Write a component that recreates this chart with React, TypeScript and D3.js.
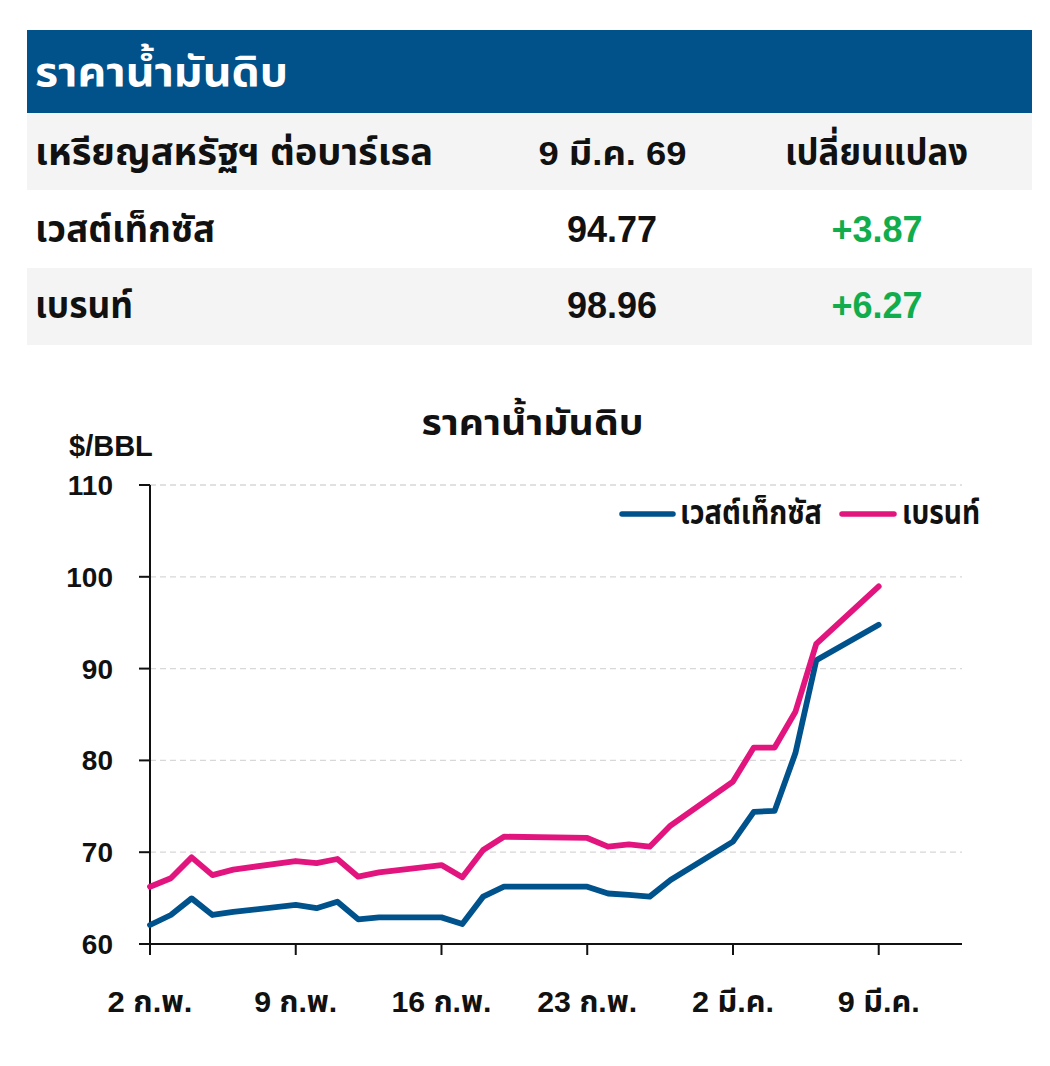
import React from "react";
import * as d3 from "d3";

const dates = [
  "2026-02-02","2026-02-03","2026-02-04","2026-02-05","2026-02-06",
  "2026-02-09","2026-02-10","2026-02-11","2026-02-12","2026-02-13",
  "2026-02-16","2026-02-17","2026-02-18","2026-02-19","2026-02-23",
  "2026-02-24","2026-02-25","2026-02-26","2026-02-27","2026-03-02",
  "2026-03-03","2026-03-04","2026-03-05","2026-03-06","2026-03-09",
];
const wti = [
  62.07, 63.16, 64.97, 63.16, 63.5,
  64.25, 63.9, 64.6, 62.69, 62.9,
  62.9, 62.18, 65.16, 66.24, 66.24,
  65.5, 65.35, 65.16, 66.97, 71.15,
  74.4, 74.5, 80.8, 90.9, 94.77,
];
const brent = [
  66.24, 67.16, 69.44, 67.5, 68.1,
  69.04, 68.8, 69.26, 67.33, 67.8,
  68.6, 67.26, 70.24, 71.69, 71.55,
  70.6, 70.85, 70.6, 72.9, 77.7,
  81.4, 81.4, 85.3, 92.7, 98.96,
];
const yTicks = [60, 70, 80, 90, 100, 110];
const xTickDates = ["2026-02-02","2026-02-09","2026-02-16","2026-02-23","2026-03-02","2026-03-09"];
const xTickLabels = ["2 ก.พ.", "9 ก.พ.", "16 ก.พ.", "23 ก.พ.", "2 มี.ค.", "9 มี.ค."];

const tableHeader = ["เหรียญสหรัฐฯ ต่อบาร์เรล", "9 มี.ค. 69", "เปลี่ยนแปลง"];
const tableNames = ["เวสต์เท็กซัส", "เบรนท์"];
const tableValues = ["94.77", "98.96"];
const tableChanges = ["+3.87", "+6.27"];

const BLUE = "#00528c";
const PINK = "#e2157f";
const GREEN = "#11ad4c";
const FONT = "'Liberation Sans', Arial, 'Noto Sans Thai', 'Noto Sans', sans-serif";

export default function App() {
  const parse = d3.timeParse("%Y-%m-%d");
  const x = d3
    .scaleTime()
    .domain([parse("2026-02-02")!, parse("2026-03-13")!])
    .range([150, 962]);
  const y = d3.scaleLinear().domain([60, 110]).range([944, 485]);
  const line = d3
    .line<number>()
    .x((_, i) => x(parse(dates[i])!))
    .y((d) => y(d));

  const rowTops = [113, 190, 268];
  const rowFills = ["#f4f4f4", "#ffffff", "#f4f4f4"];
  const xLabelLens = [85, 83, 100, 100, 82, 82];

  return (
    <svg width={1050} height={1066} style={{ display: "block", position: "absolute", left: 0, top: 0 }} fontFamily={FONT}>
      <rect x={0} y={0} width={1050} height={1066} fill="#fff" />
      {/* Table */}
      <rect x={27} y={30} width={1005} height={83} fill="#01518a" />
      <text x={35} y={86} fill="#fff" fontSize={41} fontWeight="bold" textLength={253} lengthAdjust="spacingAndGlyphs">ราคาน้ำมันดิบ</text>
      {rowTops.map((t, i) => (
        <rect key={i} x={27} y={t} width={1005} height={i === 2 ? 77 : rowTops[i + 1] - t} fill={rowFills[i]} />
      ))}
      <text x={35} y={165} fontSize={37} fontWeight="bold" fill="#111" textLength={398} lengthAdjust="spacingAndGlyphs">{tableHeader[0]}</text>
      <text x={612.5} y={165} fontSize={34} fontWeight="bold" fill="#111" textAnchor="middle" textLength={148} lengthAdjust="spacingAndGlyphs">{tableHeader[1]}</text>
      <text x={876.5} y={165} fontSize={37} fontWeight="bold" fill="#111" textAnchor="middle" textLength={183} lengthAdjust="spacingAndGlyphs">{tableHeader[2]}</text>
      {tableNames.map((n, i) => (
        <g key={n}>
          <text x={35} y={242 + i * 76} fontSize={37} fontWeight="bold" fill="#111" textLength={i === 0 ? 180 : 98} lengthAdjust="spacingAndGlyphs">{n}</text>
          <text x={612} y={242 + i * 76} fontSize={36} fontWeight="bold" fill="#111" textAnchor="middle">{tableValues[i]}</text>
          <text x={877} y={242 + i * 76} fontSize={36} fontWeight="bold" fill={GREEN} textAnchor="middle">{tableChanges[i]}</text>
        </g>
      ))}

      {/* Chart title */}
      <text x={532.5} y={435} fontSize={36} fontWeight="bold" textAnchor="middle" fill="#111" textLength={222} lengthAdjust="spacingAndGlyphs">ราคาน้ำมันดิบ</text>
      <text x={69} y={456} fontSize={29} fontWeight="bold" fill="#111">$/BBL</text>

      {/* Gridlines */}
      {yTicks.filter((t) => t !== 60).map((t) => (
        <line key={t} x1={150} x2={962} y1={y(t)} y2={y(t)} stroke="#d8d8d8" strokeWidth={1.3} strokeDasharray="6,4" />
      ))}

      {/* Y axis */}
      <line x1={150} x2={150} y1={y(110)} y2={y(60)} stroke="#111" strokeWidth={2} />
      {yTicks.map((t) => (
        <g key={t}>
          <line x1={139} x2={150} y1={y(t)} y2={y(t)} stroke="#111" strokeWidth={2} />
          <text x={113} y={y(t) + 10} fontSize={28} fontWeight="bold" textAnchor="end" fill="#111">{t}</text>
        </g>
      ))}

      {/* X axis */}
      <line x1={139} x2={962} y1={y(60)} y2={y(60)} stroke="#111" strokeWidth={2} />
      {xTickDates.map((d, i) => {
        const xx = x(parse(d)!);
        return (
          <g key={d}>
            <line x1={xx} x2={xx} y1={y(60)} y2={y(60) + 11} stroke="#111" strokeWidth={2} />
            <text x={xx} y={1012} fontSize={30} fontWeight="bold" textAnchor="middle" fill="#111" textLength={xLabelLens[i]} lengthAdjust="spacingAndGlyphs">{xTickLabels[i]}</text>
          </g>
        );
      })}

      {/* Lines */}
      <path d={line(wti) ?? ""} fill="none" stroke={BLUE} strokeWidth={5.8} strokeLinejoin="round" strokeLinecap="round" />
      <path d={line(brent) ?? ""} fill="none" stroke={PINK} strokeWidth={5.8} strokeLinejoin="round" strokeLinecap="round" />

      {/* Legend */}
      <line x1={622} x2={673} y1={514} y2={514} stroke={BLUE} strokeWidth={5.5} strokeLinecap="round" />
      <text x={680} y={524} fontSize={33} fontWeight="bold" fill="#111" textLength={142} lengthAdjust="spacingAndGlyphs">{tableNames[0]}</text>
      <line x1={842} x2={894} y1={514} y2={514} stroke={PINK} strokeWidth={5.5} strokeLinecap="round" />
      <text x={902} y={524} fontSize={33} fontWeight="bold" fill="#111" textLength={78} lengthAdjust="spacingAndGlyphs">{tableNames[1]}</text>
    </svg>
  );
}
